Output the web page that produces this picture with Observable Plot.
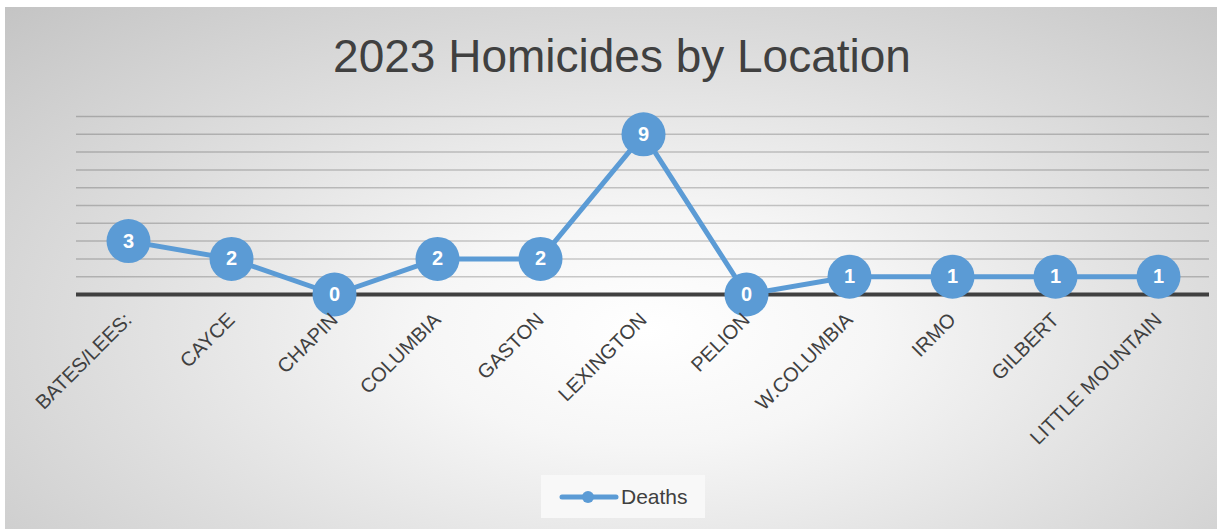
<!DOCTYPE html>
<html>
<head>
<meta charset="utf-8">
<script src="https://cdn.jsdelivr.net/npm/d3@7"></script>
<script src="https://cdn.jsdelivr.net/npm/@observablehq/plot@0.6"></script>
<style>
  html, body { margin: 0; padding: 0; background: #ffffff; }
  #frame {
    position: absolute; left: 5px; top: 7px; width: 1212px; height: 522px;
    background: radial-gradient(ellipse farthest-corner at 53% 62%, #ffffff 0%, #f6f6f6 25%, #dedede 60%, #c4c4c4 100%);
    font-family: "Liberation Sans", Arial, sans-serif;
    overflow: hidden;
  }
  #title {
    position: absolute; left: 0; top: 22px; width: 1234px; text-align: center;
    font-size: 46px; color: #404040;
  }
  #chart { position: absolute; left: -5px; top: -7px; }
  #legend {
    position: absolute; left: 536px; top: 468px; width: 164px; height: 43px;
    background: #f8f8f8; display: flex; align-items: center;
  }
  #legend svg { margin-left: 18px; }
  #legend span { font-size: 21px; color: #404040; margin-left: 2px; }
</style>
</head>
<body>
<div id="frame">
  <div id="title">2023 Homicides by Location</div>
  <div id="chart"></div>
  <div id="legend">
    <svg width="60" height="20"><line x1="3" y1="10" x2="57" y2="10" stroke="#5b9bd5" stroke-width="5" stroke-linecap="round"/><circle cx="29" cy="10" r="6" fill="#5b9bd5"/></svg>
    <span>Deaths</span>
  </div>
</div>
<script>
const locations = ["BATES/LEES:", "CAYCE", "CHAPIN", "COLUMBIA", "GASTON", "LEXINGTON", "PELION", "W.COLUMBIA", "IRMO", "GILBERT", "LITTLE MOUNTAIN"];
const deaths = [3, 2, 0, 2, 2, 9, 0, 1, 1, 1, 1];
const gridValues = [1, 2, 3, 4, 5, 6, 7, 8, 9, 10];

const data = locations.map((loc, i) => ({location: loc, deaths: deaths[i]}));

const chart = Plot.plot({
  width: 1217,
  height: 470,
  marginLeft: 76,
  marginRight: 8,
  marginTop: 116,
  marginBottom: 176,
  style: {background: "transparent", fontFamily: "'Liberation Sans', Arial, sans-serif", color: "#404040", overflow: "visible"},
  x: {type: "point", domain: locations, padding: 0.5, label: null},
  y: {domain: [0, 10], axis: null},
  marks: [
    Plot.ruleY(gridValues, {stroke: "#000000", strokeOpacity: 0.2, strokeWidth: 1.5}),
    Plot.ruleY([0], {stroke: "#404040", strokeWidth: 4}),
    Plot.line(data, {x: "location", y: "deaths", stroke: "#5b9bd5", strokeWidth: 5}),
    Plot.dot(data, {x: "location", y: "deaths", r: 22, fill: "#5b9bd5"}),
    Plot.text(data, {x: "location", y: "deaths", text: d => String(d.deaths), fill: "white", fontSize: 20, fontWeight: "bold"}),
    Plot.axisX({tickRotate: -45, tickSize: 0, tickPadding: 22, fontSize: 20, fill: "#404040", label: null})
  ]
});
document.getElementById("chart").appendChild(chart);
</script>
</body>
</html>
